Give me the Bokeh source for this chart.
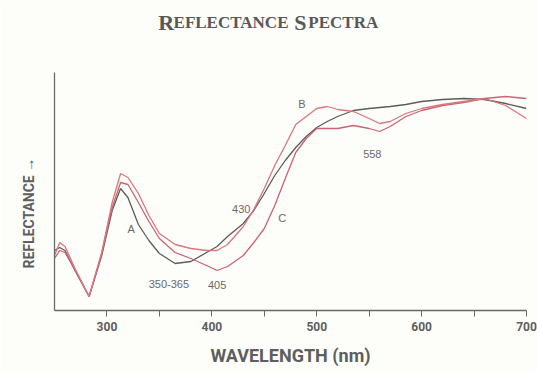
from bokeh.plotting import figure
from bokeh.models import Range1d, FixedTicker, ColumnDataSource, Title
from bokeh.embed import file_html
from bokeh.resources import INLINE
from bokeh.core.properties import value

# ---- data ----
wavelength = [250, 255, 260, 270, 283, 295, 305, 313, 320, 330, 340, 350, 365, 380,
              395, 405, 415, 430, 440, 450, 460, 470, 480, 490, 500, 510, 520, 535,
              550, 560, 570, 585, 600, 620, 640, 660, 680, 700]
curve_a = [60, 63, 60, 39, 14, 55, 100, 122, 113, 86, 70, 57, 47, 49,
           58, 64, 74, 87, 100, 117, 135, 150, 163, 174, 183, 189, 194, 200,
           202, 203, 204, 206, 209, 211, 212, 211, 207, 202]
curve_b = [55, 68, 64, 41, 14, 58, 108, 137, 133, 117, 95, 77, 66, 62,
           60, 60, 66, 84, 101, 122, 145, 165, 186, 194, 202, 204, 201, 199,
           192, 187, 189, 197, 202, 206, 209, 212, 205, 192]
curve_c = [52, 60, 58, 40, 14, 57, 103, 128, 126, 108, 89, 72, 58, 52,
           45, 40, 44, 55, 68, 82, 105, 132, 158, 172, 182, 182, 182, 185,
           182, 179, 184, 194, 200, 205, 208, 212, 214, 212]

x_ticks = [300, 400, 500, 600, 700]
x_minor_ticks = [350, 450, 550, 650]

# annotation texts with their (wavelength, reflectance) anchor
note_text = ["A", "B", "C", "430", "350-365", "405", "558"]
note_x = [323, 486, 467, 428, 359, 405, 553]
note_y = [82, 207, 93, 102, 27, 26, 157]

# title drawn as small capitals: (text, x anchor in nm, font size)
title_text = ["R", "EFLECTANCE", "S", "PECTRA"]
title_x = [349, 363.5, 478.5, 492]
title_size = ["22px", "17px", "22px", "17px"]
TITLE_Y = 288

GRAY_TXT = "#5e5e5e"
AXIS_CLR = "#6a6a6a"
BG = "#fdfdf9"

p = figure(width=537, height=371, x_range=Range1d(250, 700), y_range=Range1d(0, 310),
           output_backend="svg", toolbar_location=None,
           min_border_left=53, min_border_right=11, min_border_top=0, min_border_bottom=61,
           background_fill_color=BG, border_fill_color=BG)
p.outline_line_color = None
p.grid.visible = False

p.line(wavelength, curve_a, line_color="#5b5d58", line_width=1.3)
p.line(wavelength, curve_c, line_color="#cc6276", line_width=1.3)
p.line(wavelength, curve_b, line_color="#da767c", line_width=1.3)

src = ColumnDataSource(dict(x=note_x, y=note_y, t=note_text))
p.text(x="x", y="y", text="t", source=src, text_align="center", text_baseline="middle",
       text_font=value("Liberation Sans"), text_font_size="11px", text_color="#6a6a6a")

tsrc = ColumnDataSource(dict(x=title_x, y=[TITLE_Y] * len(title_x), t=title_text, s=title_size))
p.text(x="x", y="y", text="t", text_font_size="s", source=tsrc, text_align="left",
       text_baseline="alphabetic", text_font=value("Liberation Serif"),
       text_font_style="bold", text_color="#585858")

# x axis
xa = p.xaxis[0]
xa.ticker = FixedTicker(ticks=x_ticks, minor_ticks=x_minor_ticks)
xa.axis_line_color = AXIS_CLR
xa.axis_line_width = 1.3
xa.major_tick_line_color = AXIS_CLR
xa.minor_tick_line_color = AXIS_CLR
xa.major_tick_out = 6
xa.major_tick_in = 0
xa.minor_tick_out = 6
xa.minor_tick_in = 0
xa.major_label_standoff = 5
xa.major_label_text_font = "Roboto"
xa.major_label_text_font_style = "bold"
xa.major_label_text_font_size = "12px"
xa.major_label_text_color = GRAY_TXT
xa.axis_label = "WAVELENGTH (nm)"
xa.axis_label_standoff = 11
xa.axis_label_text_font = "Roboto"
xa.axis_label_text_font_style = "bold"
xa.axis_label_text_font_size = "18px"
xa.axis_label_text_color = GRAY_TXT

# y axis: plain spine, limited to the data area
ya = p.yaxis[0]
ya.ticker = FixedTicker(ticks=[])
ya.bounds = (0, 238)
ya.axis_line_color = AXIS_CLR
ya.axis_line_width = 1.3
ya.major_tick_out = 0
ya.major_tick_in = 0
ya.minor_tick_out = 0
ya.minor_tick_in = 0
ya.major_label_text_font_size = "0px"

# y axis title, placed along the left side starting near the bottom of the data area
yt = Title(text="REFLECTANCE \u2192", align="left", offset=42, text_font="Roboto",
           text_font_style="bold", text_font_size="14px", text_color=GRAY_TXT)
try:
    yt.standoff = 36
except Exception:
    pass
p.add_layout(yt, "left")

open("out.html", "w").write(file_html(p, INLINE))
